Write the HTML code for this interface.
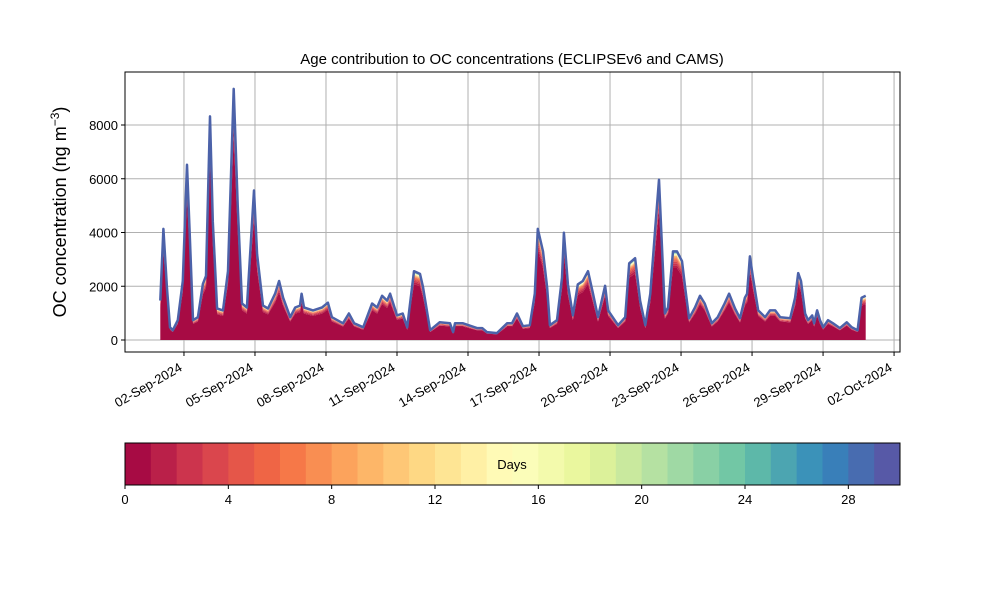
<!DOCTYPE html>
<html><head><meta charset="utf-8"><style>
body{margin:0;background:#fff;}
svg text{font-family:"Liberation Sans",sans-serif;fill:#000;}
</style></head><body>
<svg id="chart" width="1000" height="600" xmlns="http://www.w3.org/2000/svg">
<rect width="1000" height="600" fill="#fff"/>
<text x="512" y="64" font-size="15" text-anchor="middle">Age contribution to OC concentrations (ECLIPSEv6 and CAMS)</text>
<text transform="translate(66,212) rotate(-90)" font-size="18" text-anchor="middle">OC concentration (ng m<tspan font-size="12" dy="-7">−3</tspan><tspan dy="7">)</tspan></text>
<g id="grid"></g><g id="areas"></g><g id="axes"></g><g id="cbar"></g>
</svg>
<script>
const days=[0,0.13,0.28,0.41,0.53,0.74,0.95,1.13,1.25,1.38,1.59,1.8,1.93,2.1,2.22,2.4,2.65,2.86,3.1,3.27,3.45,3.66,3.88,3.96,4.09,4.34,4.55,4.85,5.02,5.19,5.49,5.7,5.9,5.97,6.07,6.45,6.83,7.08,7.25,7.72,7.97,8.19,8.57,8.95,9.16,9.37,9.58,9.71,10.0,10.24,10.43,10.72,10.97,11.1,11.4,11.8,12.24,12.37,12.45,12.79,13.38,13.6,13.8,14.22,14.65,14.86,15.07,15.32,15.61,15.82,15.95,16.17,16.34,16.46,16.76,16.97,17.05,17.22,17.43,17.64,17.85,18.07,18.28,18.49,18.79,18.92,19.34,19.64,19.81,20.06,20.27,20.49,20.7,20.91,21.07,21.32,21.45,21.66,21.83,22.04,22.17,22.34,22.59,22.8,23.0,23.3,23.55,23.84,24.03,24.28,24.49,24.7,24.79,24.91,25.04,25.26,25.55,25.76,25.98,26.19,26.61,26.82,26.95,27.07,27.24,27.37,27.54,27.62,27.75,27.87,28.0,28.21,28.42,28.71,29.0,29.21,29.46,29.63,29.8];
const totals=[1490,4200,2000,480,370,750,2230,6620,3830,750,860,2120,2420,8450,4470,1190,1120,2600,9490,5100,1380,1230,4470,5650,3240,1300,1190,1750,2230,1600,860,1230,1300,1750,1230,1120,1230,1410,860,630,1000,630,480,1380,1230,1670,1490,1750,930,1000,480,2600,2500,2000,370,670,630,300,630,630,450,450,300,260,630,630,1000,520,560,1750,4200,3350,2000,560,750,2350,4050,2100,930,2100,2230,2600,1750,860,2050,1120,560,860,2900,3090,1490,560,1750,4200,6060,1000,1230,3350,3350,2980,2000,820,1230,1670,1380,630,860,1380,1750,1190,820,1600,1750,3160,2350,1120,860,1120,1120,860,820,1600,2530,2230,1000,750,930,630,1120,750,480,750,630,450,670,480,370,1600,1670];
const ageWeights=[0.80,0.03,0.022,0.018,0.015,0.012,0.01,0.008,0.007,0.006,0.005,0.004,0.0035,0.003,0.003,0.0025,0.0025,0.002,0.002,0.002,0.002,0.002,0.002,0.002,0.002,0.002,0.002,0.003,0.004,0.006];
const yTicks=[0,2000,4000,6000,8000];
const xTickLabels=["02-Sep-2024","05-Sep-2024","08-Sep-2024","11-Sep-2024","14-Sep-2024","17-Sep-2024","20-Sep-2024","23-Sep-2024","26-Sep-2024","29-Sep-2024","02-Oct-2024"];
const xTickDays=[1,4,7,10,13,16,19,22,25,28,31];
const cbarTicks=[0,4,8,12,16,20,24,28];

(function(){
const NS="http://www.w3.org/2000/svg";
const L=125,R=900,T=72,B=352;
const N=Math.min(days.length,totals.length);
const X=d=>160.3+d*23.67;
const Y=v=>340-v*0.026875;
function mk(tag,attrs,parent){const e=document.createElementNS(NS,tag);for(const k in attrs)e.setAttribute(k,attrs[k]);parent.appendChild(e);return e;}
const stops=["#9e0142","#d53e4f","#f46d43","#fdae61","#fee08b","#ffffbf","#e6f598","#abdda4","#66c2a5","#3288bd","#5e4fa2"];
function hx(c){return [1,3,5].map(i=>parseInt(c.substr(i,2),16));}
function spectral(f){const p=f*10,i=Math.min(9,Math.floor(p)),r=p-i,a=hx(stops[i]),b=hx(stops[i+1]);return "rgb("+a.map((v,k)=>Math.round(v+(b[k]-v)*r)).join(",")+")";}

const grid=document.getElementById('grid'),axes=document.getElementById('axes'),areas=document.getElementById('areas'),cbar=document.getElementById('cbar');
yTicks.forEach(v=>{
 const g=mk('line',{x1:L,x2:R,y1:Y(v),y2:Y(v),stroke:'#b0b0b0','stroke-width':1},grid);
 
 
 mk('line',{x1:L-4,x2:L,y1:Y(v),y2:Y(v),stroke:'#000'},axes);
 const t=mk('text',{x:L-7,y:Y(v)+5,'font-size':13,'text-anchor':'end'},axes);t.textContent=v;
 
 
});
xTickDays.forEach((d,i)=>{
 const g=mk('line',{x1:X(d),x2:X(d),y1:T,y2:B,stroke:'#b0b0b0','stroke-width':1},grid);
 
 
 mk('line',{x1:X(d),x2:X(d),y1:B,y2:B+4,stroke:'#000'},axes);
 const t=mk('text',{transform:`translate(${X(d)-1},${B+18}) rotate(-30)`,'font-size':13,'text-anchor':'end'},axes);t.textContent=xTickLabels[i];
 
 
});
let cum=new Array(N).fill(0);
ageWeights.forEach((w,k)=>{
 const lo=cum.slice();cum=cum.map((c,i)=>c+totals[i]*w);
 let dd="M";const pts=[];
 for(let i=0;i<N;i++)pts.push(X(days[i]).toFixed(1)+","+Y(cum[i]).toFixed(1));
 dd+=pts.join("L");
 for(let i=N-1;i>=0;i--)dd+="L"+X(days[i]).toFixed(1)+","+Y(lo[i]).toFixed(1);
 const p=mk('path',{d:dd+"Z",fill:spectral((k+0.5)/30),stroke:'none'},areas);
 
 
});
const tp=[];for(let i=0;i<N;i++)tp.push(X(days[i]).toFixed(1)+","+Y(cum[i]).toFixed(1));
const topLine=mk('path',{d:"M"+tp.join("L"),fill:'none',stroke:'#4c62a9','stroke-width':2.5,'stroke-linejoin':'round'},areas);


const fr=mk('rect',{x:L,y:T,width:R-L,height:B-T,fill:'none',stroke:'#000','stroke-width':1},axes);


const cw=(R-L)/30;
for(let k=0;k<30;k++){const r=mk('rect',{x:L+k*cw,y:443,width:cw+0.5,height:42,fill:spectral((k+0.5)/30)},cbar);
 
 }
const cf=mk('rect',{x:L,y:443,width:R-L,height:42,fill:'none',stroke:'#000'},cbar);


const dl=mk('text',{x:512,y:469,'font-size':13,'text-anchor':'middle'},cbar);dl.textContent='Days';


cbarTicks.forEach(v=>{const x=L+v*cw;mk('line',{x1:x,x2:x,y1:485,y2:489,stroke:'#000'},cbar);
 const t=mk('text',{x:x,y:504,'font-size':13,'text-anchor':'middle'},cbar);t.textContent=v;
 
 });
})();
</script>
</body></html>
